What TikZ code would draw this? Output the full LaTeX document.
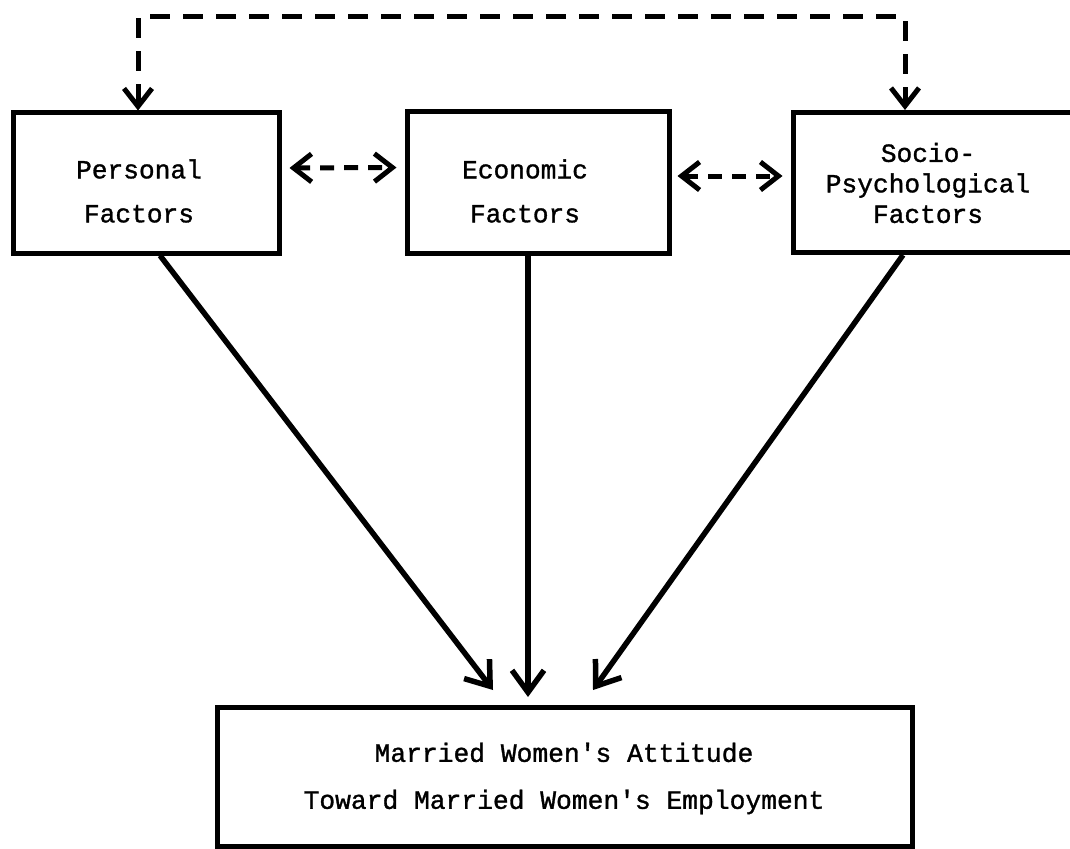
\documentclass[tikz,border=0pt]{standalone}
\usepackage{fontspec}
\newfontfamily\tw[FakeBold=1.2]{Liberation Mono}
\usetikzlibrary{arrows.meta,calc}
\begin{document}
\begin{tikzpicture}[x=1pt,y=-1pt,
  box/.style={draw, line width=5pt, inner sep=0pt},
  txt/.style={font=\tw\fontsize{26.2}{44}\selectfont, align=center, inner sep=0pt},
  txtsingle/.style={font=\tw\fontsize{26.2}{30.5}\selectfont, align=center, inner sep=0pt},
  dashline/.style={line width=5pt, dash pattern=on 20pt off 13pt},
  dtips/.style={{Straight Barb[length=18pt,width=28pt,line width=5pt]}-{Straight Barb[length=18pt,width=28pt,line width=5pt]}},
  solidarrow/.style={line width=5.5pt, -{Straight Barb[length=22pt,width=32pt,line width=5.5pt]}}
]
\useasboundingbox (0,0) rectangle (1070,848);
\clip (0,0) rectangle (1070,848);
\fill[white] (0,0) rectangle (1070,848);

% boxes
\node[box, minimum width=266pt, minimum height=140pt] (pers) at (146,183) {};
\node[box, minimum width=262pt, minimum height=141pt] (econ) at (538,182.5) {};
\node[box, minimum width=287pt, minimum height=140pt] (socio) at (936.5,182.5) {};
\node[box, minimum width=695pt, minimum height=139pt] (att) at (564.5,776.5) {};

% texts
\node[txt] (perst) at (139,191) {Personal\\Factors};
\node[txt] (econt) at (525,191) {Economic\\Factors};
\node[txtsingle] (sociot) at (928,183) {Socio-\\Psychological\\Factors};
\node[txt, font=\tw\fontsize{26.3}{47}\selectfont] (attt) at (564,778.5) {Married Women's Attitude\\Toward Married Women's Employment};

% top dashed connector
\coordinate (tl) at (138,17);
\coordinate (tr) at (905,17);
\draw[dashline, dtips] (pers.north -| tl) -- (tl) -- (tr) -- (socio.north -| tr);

% dashed double arrows between boxes
\draw[dashline, dash pattern=on 14pt off 10pt, dtips, shorten <=8pt, shorten >=8pt]
  ([yshift=15pt]pers.east) -- ([yshift=15pt]econ.west);
\draw[dashline, dash pattern=on 14pt off 10pt, dtips, shorten <=6pt, shorten >=8pt]
  ([yshift=6.5pt]econ.east) -- ([yshift=6.5pt]socio.west);

% solid arrows
\coordinate (t1) at (493,690);
\coordinate (t2) at (528,697);
\coordinate (t3) at (593,690);
\draw[solidarrow] (pers.south -| 160,0) -- (t1);
\draw[solidarrow] (econ.south -| t2) -- (t2);
\draw[solidarrow] (socio.south -| 903,0) -- (t3);
\end{tikzpicture}
\end{document}
